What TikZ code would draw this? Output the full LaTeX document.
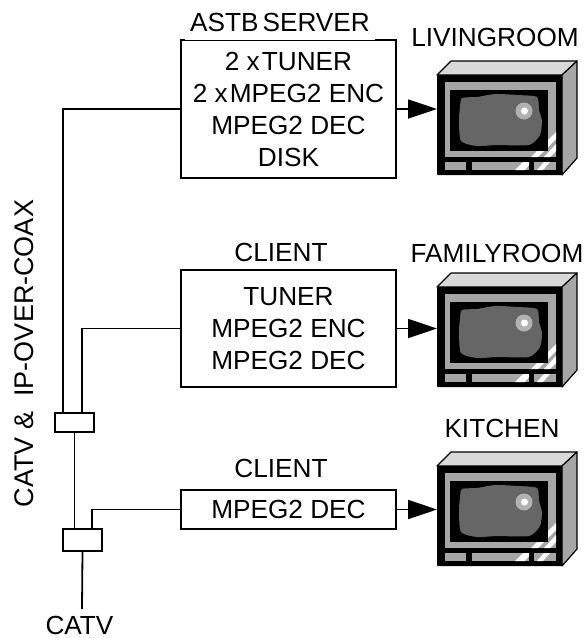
\documentclass[tikz,border=0pt]{standalone}
\usepackage{fontspec}
\setmainfont{Liberation Sans}
\usetikzlibrary{arrows.meta,positioning}
\tikzset{
  unit/.style={draw=black,line width=1.8pt,fill=white,minimum width=215pt,align=center,
    inner sep=0pt,font=\fontsize{26.2}{32}\selectfont},
  splitter/.style={draw=black,line width=1.8pt,fill=white,minimum width=39pt,inner sep=0pt},
  tag/.style={inner sep=0pt,anchor=base,font=\fontsize{26.2}{30}\selectfont},
  cable/.style={draw=black,line width=1.8pt},
  feed/.style={-{Triangle[length=29pt,width=19pt]},draw=black,line width=1.8pt},
  % pictogram
  pics/tv/.style={code={
    \fill[black!15,draw=black,line width=1.2pt,line join=round] (0,0) -- (14,-14) -- (140,-14) -- (125,0) -- cycle;
    \fill[black!35,draw=black,line width=1.2pt,line join=round] (125,0) -- (140,-14) -- (140,83) -- (125,100) -- cycle;
    \fill[black,rounded corners=1pt] (0,0) rectangle (125,100);
    \fill[black!35] (8,7) rectangle (119,82);
    \fill[white] (94,82) -- (101,82) -- (119,64) -- (119,57) -- cycle;
    \fill[white] (107,82) -- (113,82) -- (119,76) -- (119,69) -- cycle;
    \fill[black] (13,15) rectangle (111,76);
    \fill[black!60] plot[smooth cycle,tension=0.4] coordinates {(25,23) (40,22) (58,19) (80,20) (100,22) (102,35) (105,46) (103,60) (92,70) (60,70) (40,71) (24,66) (22,45) (23,32)};
    \fill[black!30] (87,36) circle (8.5);
    \fill[white] (87.5,36) circle (3.5);
    \foreach \xa/\xb in {8/29,35/92,97/119} \fill[black!35] (\xa,87) rectangle (\xb,95);
    \fill[white] (78,95) -- (88,95) -- (92,90) -- (92,87) -- (86,87) -- cycle;
    \fill[white] (100,95) -- (106,95) -- (113,87) -- (107,87) -- cycle;
  }},
}
\begin{document}
\begin{tikzpicture}[x=1pt,y=-1pt]
  \useasboundingbox (0,0) rectangle (588,638);
  \node[unit,minimum height=138pt] (srv) at (288.5,109) {2 x\hspace{2pt}TUNER\\2 x\hspace{2pt}MPEG2 ENC\\MPEG2 DEC\\DISK};
  \node[unit,minimum height=117pt] (cli) at (288.5,328.5) {TUNER\\MPEG2 ENC\\MPEG2 DEC};
  \node[unit,minimum height=39pt] (dec) at (288.5,509.5) {MPEG2 DEC};
  \node[splitter,minimum height=19pt] (top) at (74.5,422.5) {};
  \node[splitter,minimum height=22pt] (low) at (82.5,540) {};
  \node[tag,fill=white,minimum width=190pt,text height=18pt,text depth=9pt] (lsrv) at (280,31) {ASTB\hspace{4pt}SERVER};
  \node[tag] (lcli) at (281,261) {CLIENT};
  \node[tag] (ldec) at (281,477) {CLIENT};
  \node[tag] (lliv) at (495,46) {LIVINGROOM};
  \node[tag] (lfam) at (497,262) {FAMILYROOM};
  \node[tag] (lkit) at (502,437) {KITCHEN};
  \node[tag,font=\fontsize{27}{30}\selectfont,rotate=90] (lbus) at (34,353.5) {CATV \&\ \ IP-OVER-COAX};
  \node[tag] (lcatv) at (79.5,634) {CATV};
  \foreach \n/\y in {1/75,2/287,3/466}
    \pic (tv\n) at (437,\y) {tv};
  \coordinate (in1) at (437,109);
  \coordinate (in2) at (437,328.5);
  \coordinate (in3) at (437,509.5);
  \draw[feed] (srv.east) -- (in1);
  \draw[feed] (cli.east) -- (in2);
  \draw[feed] (dec.east) -- (in3);
  \coordinate (t1) at (63,413);
  \coordinate (t2) at (82,413);
  \coordinate (t3) at (92,529);
  \coordinate (end) at (82,609);
  \draw[cable] (srv.west) -| (t1);
  \draw[cable] (cli.west) -| (t2);
  \draw[cable] (dec.west) -| (t3);
  \draw[cable] (top.south) -- (top.south |- low.north);
  \draw[cable] (low.south) -- (end);
\end{tikzpicture}
\end{document}
